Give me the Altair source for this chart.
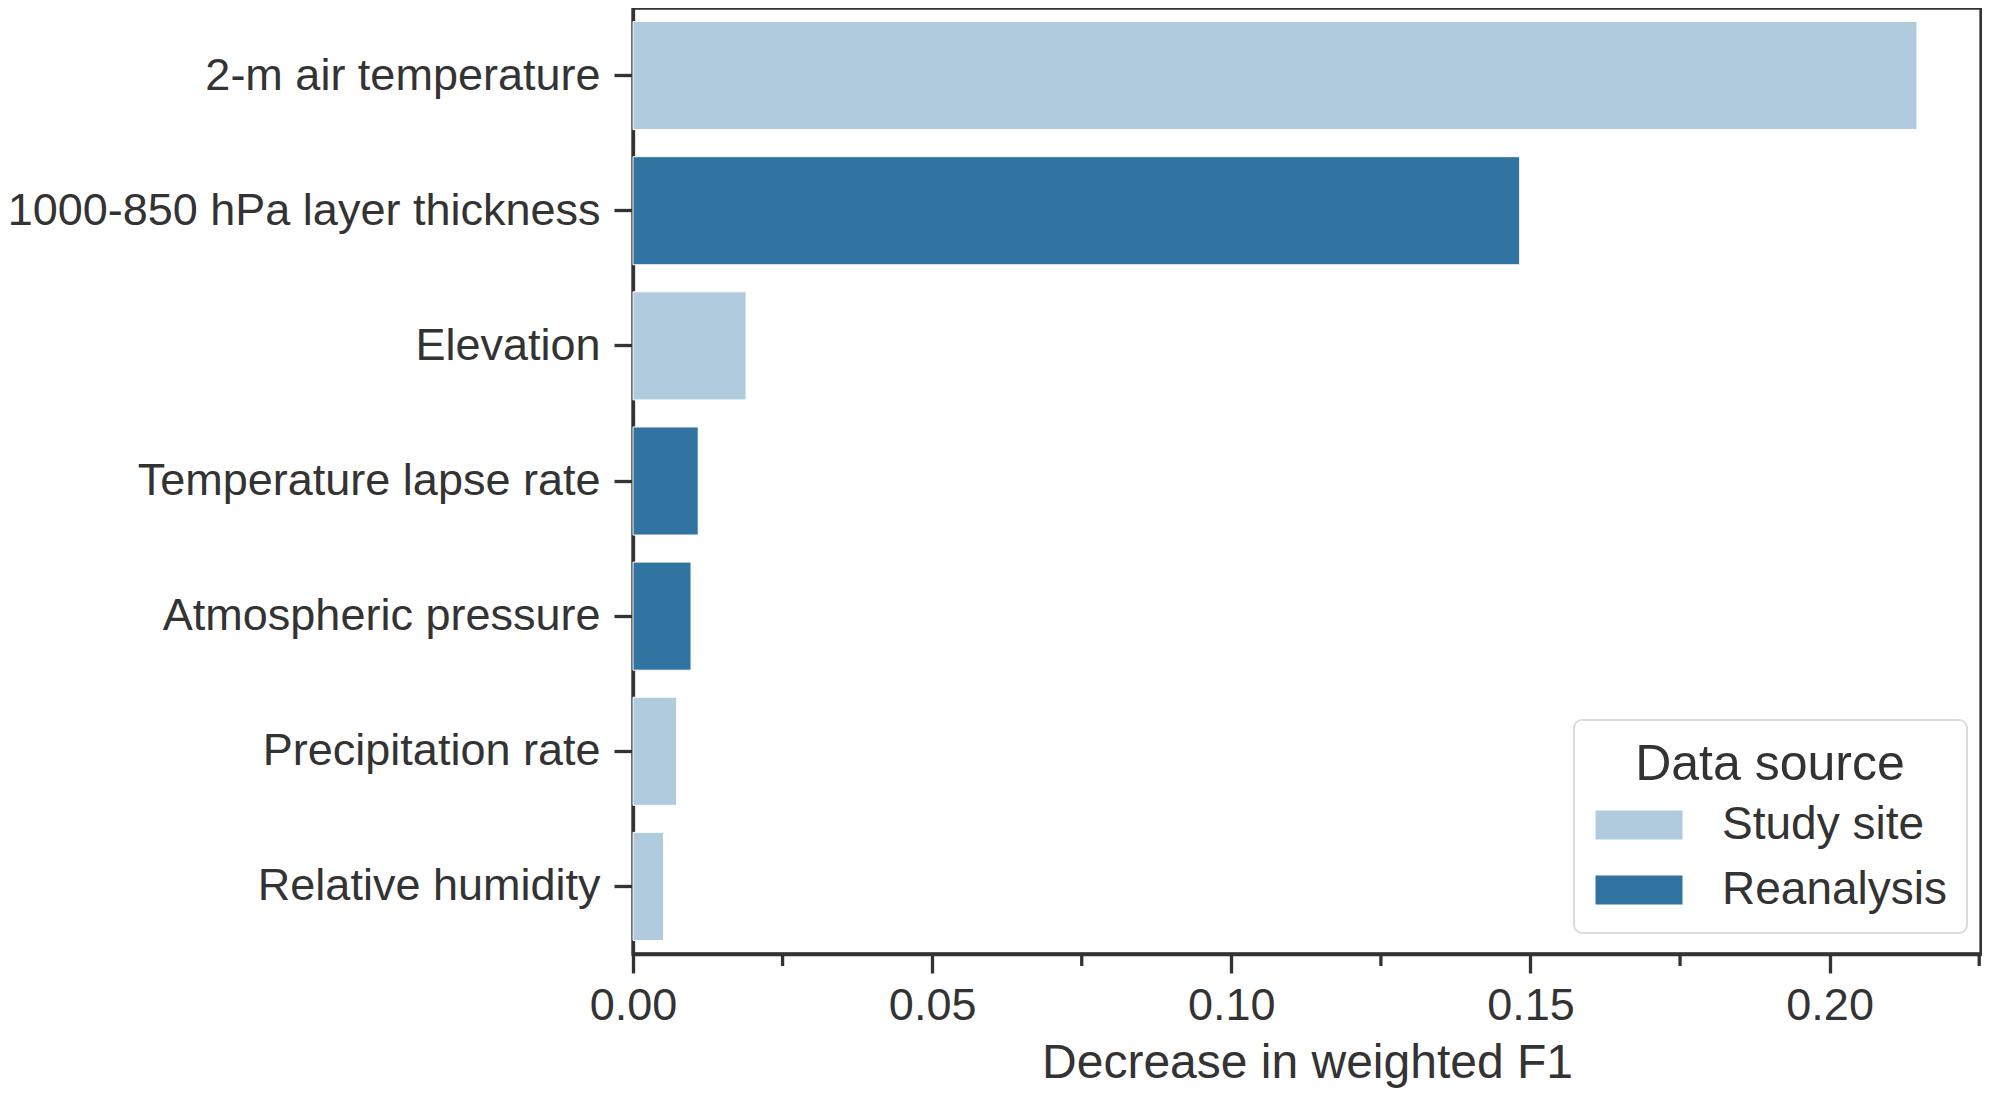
import altair as alt
import pandas as pd

features = [
    "2-m air temperature",
    "1000-850 hPa layer thickness",
    "Elevation",
    "Temperature lapse rate",
    "Atmospheric pressure",
    "Precipitation rate",
    "Relative humidity",
]
decrease = [0.2146, 0.1482, 0.0189, 0.0109, 0.0097, 0.0073, 0.0051]
sources = ["Study site", "Reanalysis", "Study site", "Reanalysis",
           "Reanalysis", "Study site", "Study site"]
source_order = ["Study site", "Reanalysis"]
source_colors = ["#afcbdd", "#3274a1"]
major_ticks = [0.0, 0.05, 0.10, 0.15, 0.20]
minor_ticks = [0.025, 0.075, 0.125, 0.175, 0.225]
x_max = 0.2253

W, H = 1348, 946
INK = "#333333"

df = pd.DataFrame({"feature": features, "value": decrease, "source": sources})
minor_df = pd.DataFrame({"tick": minor_ticks})

xscale = alt.Scale(domain=[0, x_max], nice=False, zero=True)
xaxis = alt.Axis(
    values=major_ticks,
    format=".2f",
    title="Decrease in weighted F1",
    tickSize=19,
    labelPadding=10,
    labelFlush=False,
    titlePadding=11,
)

bars = alt.Chart(df).mark_bar(stroke="white", strokeWidth=1).encode(
    x=alt.X("value:Q", scale=xscale, axis=xaxis),
    y=alt.Y(
        "feature:N",
        sort=features,
        scale=alt.Scale(paddingInner=0.2, paddingOuter=0.1),
        axis=alt.Axis(title=None, tickSize=19, labelPadding=14, labelLimit=800),
    ),
    color=alt.Color(
        "source:N",
        scale=alt.Scale(domain=source_order, range=source_colors),
        legend=alt.Legend(
            title="Data source",
            orient="none",
            legendX=941,
            legendY=712,
            titleFontSize=50,
            titleFontWeight="normal",
            titleColor=INK,
            titleAnchor="middle",
            titleAlign="center",
            titlePadding=12,
            titleLimit=600,
            labelFontSize=46,
            labelColor=INK,
            labelLimit=600,
            labelOffset=60,
            symbolType="M-3,-1H3V1H-3Z",
            symbolSize=841,
            symbolOffset=22,
            symbolStrokeWidth=0,
            symbolOpacity=1,
            rowPadding=19,
            padding=20,
            fillColor="white",
            strokeColor="#dcdcdc",
            cornerRadius=8,
        ),
    ),
)

minor = alt.Chart(minor_df).mark_rule(color=INK, strokeWidth=3.3).encode(
    x=alt.X("tick:Q", scale=xscale, axis=xaxis),
    y=alt.value(H),
    y2=alt.value(H + 12),
)

chart = (
    alt.layer(bars, minor)
    .properties(
        width=W,
        height=H,
        autosize=alt.AutoSizeParams(type="none"),
        padding={"left": 625, "top": 0, "right": 1, "bottom": 138},
    )
    .configure(font="Liberation Sans")
    .configure_view(stroke=INK, strokeWidth=3.3)
    .configure_axis(
        domainColor=INK,
        domainWidth=3.3,
        tickColor=INK,
        tickWidth=3.3,
        labelColor=INK,
        labelFontSize=45,
        titleFontSize=48,
        titleFontWeight="normal",
        titleColor=INK,
        grid=False,
    )
    .configure_legend(strokeWidth=2)
)

chart.save("out.html", embed_options={"renderer": "svg", "actions": False})
